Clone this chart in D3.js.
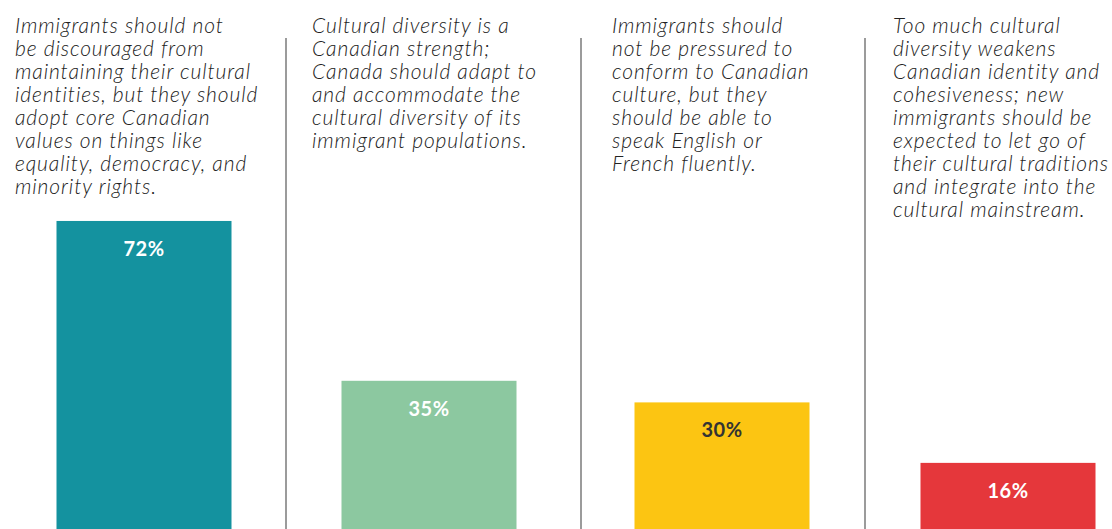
<!DOCTYPE html>
<html>
<head>
<meta charset="utf-8">
<script src="https://cdn.jsdelivr.net/npm/d3@7"></script>
<style>
  html, body { margin: 0; padding: 0; background: #fff; }
  svg { display: block; }
</style>
</head>
<body>
<svg id="chart" width="1112" height="529"></svg>
<script>
// Survey statements and the share of respondents choosing each one
const statements = [
  ["Immigrants should not", "be discouraged from", "maintaining their cultural", "identities, but they should", "adopt core Canadian", "values on things like", "equality, democracy, and", "minority rights."],
  ["Cultural diversity is a", "Canadian strength;", "Canada should adapt to", "and accommodate the", "cultural diversity of its", "immigrant populations."],
  ["Immigrants should", "not be pressured to", "conform to Canadian", "culture, but they", "should be able to", "speak English or", "French fluently."],
  ["Too much cultural", "diversity weakens", "Canadian identity and", "cohesiveness; new", "immigrants should be", "expected to let go of", "their cultural traditions", "and integrate into the", "cultural mainstream."]
];
const categories = ["A", "B", "C", "D"];
const shares = [72, 35, 30, 16];
const barColors = ["#14929f", "#8cc8a0", "#fcc512", "#e5373b"];
const labelColors = ["#ffffff", "#ffffff", "#333333", "#ffffff"];

const width = 1112, height = 529;
const svg = d3.select("#chart");

// one column per statement
const x = d3.scaleBand().domain(categories).range([0, 1152]).padding(0);
const barW = 175;
const y = d3.scaleLinear().domain([0, 100]).range([532, 100]);

// text inset from each column's left edge
const textInset = [15, 24, 36, 29];
// rule offsets from each column boundary
const ruleShift = [-2, 5, 1];
// small nudges of each bar's centre within its column
const barShift = [0, -3, 2, 0];

// vertical rules between columns
svg.selectAll("line.sep")
  .data(categories.slice(1))
  .join("line")
  .attr("class", "sep")
  .attr("x1", (d, i) => x(d) + ruleShift[i]).attr("x2", (d, i) => x(d) + ruleShift[i])
  .attr("y1", 38).attr("y2", height)
  .attr("stroke", "#9b9b9b")
  .attr("stroke-width", 2);

// statement text
const texts = svg.selectAll("text.stmt")
  .data(categories)
  .join("text")
  .attr("class", "stmt")
  .attr("font-family", "Lato, 'Open Sans', sans-serif")
  .attr("font-style", "italic")
  .attr("font-weight", 300)
  .attr("font-size", 21)
  .attr("letter-spacing", 0.9)
  .attr("fill", "#222");

texts.each(function(d, i) {
  d3.select(this).selectAll("tspan")
    .data(statements[i])
    .join("tspan")
    .attr("x", x(d) + textInset[i])
    .attr("y", (t, j) => 33 + j * 23)
    .text(t => t);
});

const cx = (d, i) => x(d) + x.bandwidth() / 2 + barShift[i];

// bars
svg.selectAll("rect.bar")
  .data(categories)
  .join("rect")
  .attr("class", "bar")
  .attr("x", (d, i) => cx(d, i) - barW / 2)
  .attr("y", (d, i) => y(shares[i]))
  .attr("width", barW)
  .attr("height", (d, i) => y(0) - y(shares[i]))
  .attr("fill", (d, i) => barColors[i]);

// value labels
svg.selectAll("text.val")
  .data(categories)
  .join("text")
  .attr("class", "val")
  .attr("x", (d, i) => cx(d, i))
  .attr("y", (d, i) => y(shares[i]) + 35)
  .attr("text-anchor", "middle")
  .attr("font-family", "Lato, sans-serif")
  .attr("font-weight", 700)
  .attr("font-size", 20)
  .attr("letter-spacing", 0.5)
  .attr("fill", (d, i) => labelColors[i])
  .text((d, i) => shares[i] + "%");
</script>
</body>
</html>
